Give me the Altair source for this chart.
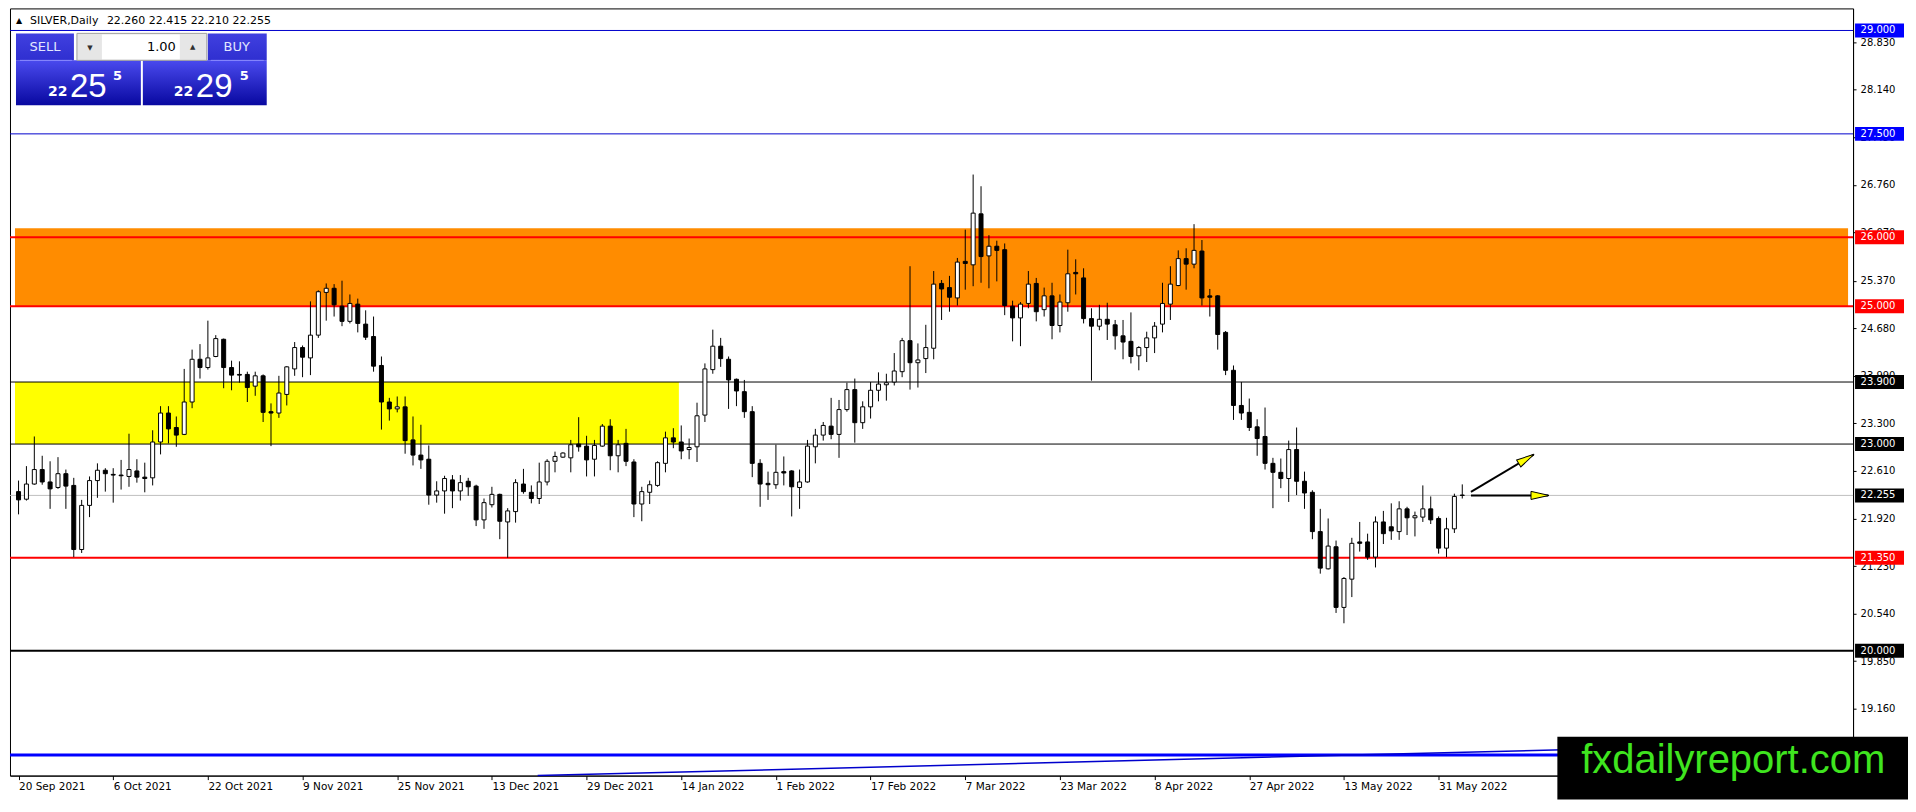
import json
import altair as alt
import pandas as pd

W, H = 1845, 768
FONT = "DejaVu Sans"

# ---------------- data ----------------
symbol = "SILVER"
timeframe = "Daily"
ask_price = 22.295
lot_size = "1.00"

opens = [22.31, 22.20, 22.42, 22.63, 22.45, 22.37, 22.57, 22.40, 21.47, 22.11,
         22.47, 22.62, 22.56, 22.55, 22.53, 22.61, 22.52, 22.51, 23.03, 23.45,
         23.24, 23.14, 23.61, 24.23, 24.11, 24.27, 24.52, 24.11, 24.01, 24.01,
         23.84, 23.99, 23.47, 23.45, 23.72, 24.09, 24.40, 24.25, 24.58, 25.20,
         25.26, 25.00, 24.78, 25.03, 24.74, 24.56, 24.14, 23.61, 23.51, 23.54,
         23.06, 22.84, 22.78, 22.26, 22.32, 22.48, 22.32, 22.46, 22.39, 21.90,
         22.12, 22.27, 21.87, 22.02, 22.42, 22.30, 22.21, 22.45, 22.75, 22.81,
         22.80, 23.00, 22.97, 22.78, 22.97, 23.26, 22.83, 23.01, 22.74, 22.13,
         22.30, 22.40, 22.72, 23.09, 23.03, 22.92, 22.96, 23.42, 24.08, 24.42,
         24.23, 23.94, 23.76, 23.47, 22.72, 22.43, 22.41, 22.60, 22.61, 22.37,
         22.45, 22.96, 23.13, 23.26, 23.14, 23.50, 23.79, 23.31, 23.54, 23.78,
         23.86, 23.90, 24.05, 24.50, 24.18, 24.24, 24.39, 25.33, 25.27, 25.12,
         25.65, 25.60, 26.34, 25.73, 25.87, 25.82, 25.00, 24.83, 25.04, 25.33,
         24.95, 25.15, 24.72, 25.05, 25.49, 25.41, 24.82, 24.71, 24.81, 24.73,
         24.57, 24.49, 24.28, 24.40, 24.54, 24.74, 25.03, 25.30, 25.69, 25.61,
         25.80, 25.15, 25.15, 24.62, 24.07, 23.56, 23.46, 23.25, 23.11, 22.72,
         22.59, 22.50, 22.92, 22.46, 22.30, 21.73, 21.19, 21.51, 20.63, 21.04,
         21.58, 21.58, 21.36, 21.87, 21.80, 21.73, 22.06, 21.93, 21.94, 22.06,
         21.92, 21.49, 21.77, 22.260]
highs = [22.47, 22.68, 23.11, 22.83, 22.75, 22.81, 22.63, 22.51, 22.19, 22.53,
         22.72, 22.65, 22.65, 22.77, 23.15, 22.78, 22.73, 23.20, 23.55, 23.55,
         23.40, 24.09, 24.37, 24.45, 24.79, 24.58, 24.53, 24.21, 24.20, 24.05,
         24.05, 24.01, 23.59, 23.99, 24.13, 24.48, 24.43, 25.07, 25.23, 25.33,
         25.32, 25.37, 25.17, 25.11, 24.94, 24.85, 24.27, 23.67, 23.69, 23.69,
         23.40, 23.28, 22.98, 22.46, 22.54, 22.55, 22.55, 22.51, 22.41, 22.21,
         22.38, 22.28, 22.07, 22.49, 22.64, 22.40, 22.73, 22.78, 22.89, 22.88,
         23.06, 23.39, 23.12, 23.06, 23.29, 23.36, 23.06, 23.22, 22.78, 22.38,
         22.47, 22.75, 23.18, 23.23, 23.27, 23.08, 23.60, 24.17, 24.66, 24.54,
         24.27, 23.95, 23.93, 23.55, 22.78, 22.60, 22.99, 22.82, 22.62, 22.63,
         23.06, 23.22, 23.32, 23.67, 23.64, 23.89, 23.95, 23.62, 23.90, 24.04,
         24.02, 24.32, 24.54, 25.58, 24.46, 24.73, 25.51, 25.38, 25.44, 25.70,
         26.11, 26.91, 26.74, 26.03, 25.95, 25.91, 25.08, 25.06, 25.51, 25.41,
         25.27, 25.34, 25.17, 25.82, 25.68, 25.55, 24.97, 25.02, 25.05, 24.80,
         24.80, 24.91, 24.42, 24.63, 24.77, 25.34, 25.58, 25.81, 25.84, 26.19,
         25.96, 25.25, 25.16, 24.64, 24.14, 23.90, 23.66, 23.36, 23.53, 22.80,
         22.79, 23.05, 23.24, 22.60, 22.33, 22.06, 21.92, 21.60, 21.07, 21.64,
         21.87, 21.70, 21.95, 22.03, 22.14, 22.17, 22.09, 22.02, 22.40, 22.24,
         21.95, 21.93, 22.28, 22.415]
lows = [21.98, 22.18, 22.41, 22.41, 22.06, 22.35, 22.06, 21.36, 21.42, 21.94,
        22.22, 22.31, 22.15, 22.34, 22.38, 22.44, 22.30, 22.40, 22.85, 23.01,
        22.96, 23.13, 23.52, 23.95, 24.08, 24.26, 23.81, 23.78, 23.89, 23.61,
        23.70, 23.32, 22.97, 23.38, 23.56, 23.99, 23.97, 24.00, 24.54, 24.79,
        24.85, 24.71, 24.75, 24.62, 24.51, 24.05, 23.21, 23.34, 23.46, 22.86,
        22.69, 22.64, 22.12, 22.15, 21.99, 22.07, 22.18, 22.25, 21.81, 21.77,
        22.08, 21.62, 21.35, 21.86, 22.28, 22.14, 22.13, 22.40, 22.59, 22.80,
        22.59, 22.89, 22.53, 22.53, 22.96, 22.62, 22.59, 22.68, 21.94, 21.88,
        22.13, 22.38, 22.59, 22.94, 22.78, 22.78, 22.74, 23.32, 24.02, 24.12,
        23.51, 23.55, 23.38, 22.52, 22.09, 22.19, 22.35, 22.40, 21.95, 22.06,
        22.44, 22.72, 23.05, 23.07, 22.80, 23.47, 23.02, 23.22, 23.37, 23.62,
        23.63, 23.85, 23.97, 23.79, 23.82, 24.03, 24.23, 24.80, 24.92, 25.01,
        25.24, 25.29, 25.34, 25.26, 25.36, 24.87, 24.49, 24.42, 24.97, 24.78,
        24.85, 24.52, 24.62, 24.92, 25.17, 24.75, 23.92, 24.65, 24.51, 24.37,
        24.23, 24.17, 24.07, 24.19, 24.32, 24.62, 24.80, 25.29, 25.24, 25.55,
        25.01, 24.85, 24.37, 24.00, 23.35, 23.35, 23.19, 22.83, 22.63, 22.07,
        22.36, 22.16, 22.26, 22.06, 21.62, 21.12, 21.18, 20.55, 20.40, 20.78,
        21.44, 21.32, 21.21, 21.55, 21.61, 21.61, 21.68, 21.66, 21.87, 21.84,
        21.41, 21.36, 21.71, 22.210]
closes = [22.19, 22.42, 22.63, 22.45, 22.35, 22.57, 22.39, 21.47, 22.11, 22.47,
          22.62, 22.57, 22.55, 22.54, 22.63, 22.52, 22.50, 23.03, 23.45, 23.22,
          23.13, 23.61, 24.23, 24.11, 24.25, 24.53, 24.11, 24.00, 24.00, 23.82,
          23.99, 23.46, 23.45, 23.74, 24.12, 24.40, 24.26, 24.58, 25.21, 25.26,
          25.02, 24.78, 25.04, 24.75, 24.55, 24.13, 23.61, 23.51, 23.54, 23.05,
          22.84, 22.77, 22.26, 22.32, 22.50, 22.32, 22.44, 22.38, 21.90, 22.15,
          22.27, 21.88, 22.03, 22.44, 22.31, 22.21, 22.45, 22.75, 22.82, 22.87,
          22.99, 22.96, 22.77, 22.98, 23.26, 22.83, 22.99, 22.75, 22.13, 22.31,
          22.41, 22.73, 23.09, 23.03, 22.90, 22.95, 23.41, 24.09, 24.42, 24.24,
          23.93, 23.77, 23.47, 22.72, 22.42, 22.41, 22.59, 22.58, 22.38, 22.45,
          22.97, 23.13, 23.27, 23.14, 23.50, 23.79, 23.31, 23.54, 23.78, 23.87,
          23.89, 24.06, 24.50, 24.18, 24.22, 24.40, 25.32, 25.25, 25.13, 25.64,
          25.62, 26.35, 25.72, 25.87, 25.81, 25.01, 24.83, 25.03, 25.32, 24.92,
          25.15, 24.72, 25.06, 25.47, 25.47, 24.82, 24.71, 24.81, 24.74, 24.57,
          24.48, 24.27, 24.40, 24.54, 24.71, 25.04, 25.32, 25.69, 25.61, 25.81,
          25.12, 25.13, 24.59, 24.07, 23.56, 23.45, 23.24, 23.08, 22.72, 22.59,
          22.50, 22.92, 22.46, 22.29, 21.73, 21.20, 21.52, 20.63, 21.05, 21.56,
          21.56, 21.36, 21.87, 21.70, 21.74, 22.06, 21.93, 21.96, 22.06, 21.90,
          21.49, 21.77, 22.24, 22.255]

date_labels = ["20 Sep 2021", "6 Oct 2021", "22 Oct 2021", "9 Nov 2021", "25 Nov 2021",
               "13 Dec 2021", "29 Dec 2021", "14 Jan 2022", "1 Feb 2022", "17 Feb 2022",
               "7 Mar 2022", "23 Mar 2022", "8 Apr 2022", "27 Apr 2022", "13 May 2022",
               "31 May 2022"]
date_label_bars = [0, 12, 24, 36, 48, 60, 72, 84, 96, 108, 120, 132, 144, 156, 168, 180]

y_ticks = [28.83, 28.14, 27.45, 26.76, 26.07, 25.37, 24.68, 23.99, 23.30, 22.61,
           21.92, 21.23, 20.54, 19.85, 19.16]

levels = [29.0, 27.5, 26.0, 25.0, 23.9, 23.0, 22.255, 21.35, 20.0, 18.49]
level_colors = ["#0000cc", "#0000cc", "#ff0000", "#ff0000", "#000000", "#000000",
                "#c0c0c0", "#ff0000", "#000000", "#0000ff"]
level_widths = [1, 1, 2, 2, 1, 1, 1, 2, 2, 3]

tag_levels = [29.0, 27.5, 26.0, 25.0, 23.9, 23.0, 22.255, 21.35, 20.0]
tag_colors = ["#0000ff", "#0000ff", "#ff0000", "#ff0000", "#000000", "#000000",
              "#000000", "#ff0000", "#000000"]

zone_from = [-0.45, -0.45]
zone_to = [231.9, 83.7]
zone_low = [25.0, 23.0]
zone_high = [26.13, 23.9]
zone_colors = ["#ff8c00", "#ffff00"]

trend_bars = [65.8, 231.9]
trend_prices = [18.19, 18.67]

arrow_from_bar = [184.1, 184.1]
arrow_from_price = [22.305, 22.255]
arrow_to_bar = [192.05, 193.9]
arrow_to_price = [22.848, 22.255]
arrow_head_bar = [191.13, 192.85]
arrow_head_price = [22.785, 22.255]
arrow_head_angle = [329, 0]

x_domain = [-0.45, 231.9]
y_domain = [18.19, 29.32]

# ---------------- tables ----------------
candles = pd.DataFrame({"bar": list(range(len(opens))), "open": opens,
                        "high": highs, "low": lows, "close": closes})
candles["fill"] = ["white" if c >= o else "black" for o, c in zip(opens, closes)]

zones = pd.DataFrame({"x": zone_from, "x2": zone_to, "lo": zone_low,
                      "hi": zone_high, "color": zone_colors})
lines = pd.DataFrame({"level": levels, "color": level_colors, "w": level_widths})
tags = pd.DataFrame({"level": tag_levels, "color": tag_colors,
                     "label": [f"{v:.3f}" for v in tag_levels]})
trend = pd.DataFrame({"x": [trend_bars[0]], "x2": [trend_bars[1]],
                      "y": [trend_prices[0]], "y2": [trend_prices[1]]})
arrows = pd.DataFrame({"x": arrow_from_bar, "y": arrow_from_price,
                       "x2": arrow_to_bar, "y2": arrow_to_price,
                       "hx": arrow_head_bar, "hy": arrow_head_price,
                       "angle": arrow_head_angle})

xs = alt.Scale(domain=x_domain, nice=False, zero=False)
ys = alt.Scale(domain=y_domain, nice=False, zero=False)

label_expr = (f"{json.dumps(date_labels)}[indexof({json.dumps(date_label_bars)}, datum.value)]")
x_axis = alt.Axis(values=date_label_bars, labelExpr=label_expr, title=None, orient="bottom",
                  tickSize=4, labelAlign="left", labelPadding=2, labelFontSize=10.5,
                  labelOverlap=False, labelFlush=False, grid=False)
y_axis = alt.Axis(values=y_ticks, format=".3f", title=None, orient="right", tickSize=3,
                  labelPadding=4, labelFontSize=10, labelOverlap=False, grid=False)


def X(f):
    return alt.X(f, type="quantitative", scale=xs, axis=x_axis)


def Y(f):
    return alt.Y(f, type="quantitative", scale=ys, axis=y_axis)


zone_layer = alt.Chart(zones).mark_rect().encode(
    x=X("x"), x2="x2", y=Y("lo"), y2="hi", color=alt.Color("color:N", scale=None))

line_layer = alt.Chart(lines).mark_rule().encode(
    x=alt.value(0), x2=alt.value(W), y=Y("level"),
    color=alt.Color("color:N", scale=None),
    strokeWidth=alt.StrokeWidth("w:Q", scale=None))

trend_layer = alt.Chart(trend).mark_rule(color="#0000cc", strokeWidth=1.5).encode(
    x=X("x"), x2="x2", y=Y("y"), y2="y2")

wick_layer = alt.Chart(candles).mark_rule(color="black", strokeWidth=1).encode(
    x=X("bar"), y=Y("low"), y2="high")

body_layer = alt.Chart(candles).mark_bar(size=4, stroke="black", strokeWidth=1).encode(
    x=X("bar"), y=Y("open"), y2="close", fill=alt.Fill("fill:N", scale=None))

arrow_line_layer = alt.Chart(arrows).mark_rule(color="black", strokeWidth=2).encode(
    x=X("x"), y=Y("y"), x2="x2", y2="y2")

arrow_head_layer = alt.Chart(arrows).mark_point(
    shape="M-1,-0.45L1,0L-1,0.45Z", filled=True, fill="#ffff00", stroke="black",
    strokeWidth=1, size=324, opacity=1).encode(
    x=X("hx"), y=Y("hy"), angle=alt.Angle("angle:Q", scale=None))

tag_box_layer = alt.Chart(tags).mark_rect(yOffset=-7, y2Offset=7).encode(
    x=alt.value(W + 2), x2=alt.value(W + 51), y=Y("level"), y2="level",
    color=alt.Color("color:N", scale=None))

tag_text_layer = alt.Chart(tags).mark_text(
    align="left", baseline="middle", font=FONT, fontSize=10, color="white").encode(
    x=alt.value(W + 7.5), y=Y("level"), text="label:N")

# ---------------- decorations (pixel placed) ----------------
one = alt.Data(values=[{}])


def box(x, x2, y, y2, **kw):
    return alt.Chart(one).mark_rect(**kw).encode(
        x=alt.value(x), x2=alt.value(x2), y=alt.value(y), y2=alt.value(y2))


def txt(x, y, text, **kw):
    kw.setdefault("font", FONT)
    return alt.Chart(one).mark_text(text=text, **kw).encode(x=alt.value(x), y=alt.value(y))


panel_grad = alt.Gradient(gradient="linear", x1=0, x2=0, y1=0, y2=1, stops=[
    alt.GradientStop(color="#4a4aee", offset=0), alt.GradientStop(color="#0808a0", offset=1)])
tab_grad = alt.Gradient(gradient="linear", x1=0, x2=0, y1=0, y2=1, stops=[
    alt.GradientStop(color="#4040e0", offset=0), alt.GradientStop(color="#2f2fd0", offset=1)])

bid_txt = f"{closes[-1]:.3f}"
ask_txt = f"{ask_price:.3f}"
last = [opens[-1], highs[-1], lows[-1], closes[-1]]

deco = [
    txt(6, 13, "\u25b2", fontSize=8, align="left", baseline="middle", color="black"),
    txt(20, 13, f"{symbol},{timeframe}", fontSize=11, align="left", baseline="middle", color="black"),
    txt(97, 13, " ".join(f"{v:.3f}" for v in last), fontSize=11, align="left",
        baseline="middle", color="black"),
    box(6, 131, 52, 97, color=panel_grad),
    box(133, 257, 52, 97, color=panel_grad),
    box(6, 64, 25, 52, color=tab_grad),
    box(198, 257, 25, 52, color=tab_grad),
    box(67, 197, 25, 52, color="#e6e6e6", stroke="#a0a0a0", strokeWidth=1),
    box(92, 170, 26, 51, color="white"),
    alt.Chart(one).mark_rule(color="#8a8aff", strokeWidth=1).encode(
        x=alt.value(10), x2=alt.value(62), y=alt.value(52)),
    alt.Chart(one).mark_rule(color="#8a8aff", strokeWidth=1).encode(
        x=alt.value(201), x2=alt.value(254), y=alt.value(52)),
    txt(35, 39, "SELL", fontSize=13, align="center", baseline="middle", color="#e2e6ff"),
    txt(227, 39, "BUY", fontSize=13, align="center", baseline="middle", color="#e2e6ff"),
    txt(166, 39, lot_size, fontSize=13, align="right", baseline="middle", color="black"),
    txt(80, 40, "\u25bc", fontSize=7, align="center", baseline="middle", color="#303030"),
    txt(183, 39, "\u25b2", fontSize=7, align="center", baseline="middle", color="#303030"),
    txt(38, 88, bid_txt[:2], fontSize=14, fontWeight="bold", align="left",
        baseline="alphabetic", color="white"),
    txt(60, 89, bid_txt[3:5], font="Liberation Sans", fontSize=33, align="left",
        baseline="alphabetic", color="white"),
    txt(103, 72, bid_txt[5:], fontSize=13, fontWeight="bold", align="left",
        baseline="alphabetic", color="white"),
    txt(164, 88, ask_txt[:2], fontSize=14, fontWeight="bold", align="left",
        baseline="alphabetic", color="white"),
    txt(186, 89, ask_txt[3:5], font="Liberation Sans", fontSize=33, align="left",
        baseline="alphabetic", color="white"),
    txt(230, 72, ask_txt[5:], fontSize=13, fontWeight="bold", align="left",
        baseline="alphabetic", color="white"),
    box(1549, 1900, H - 39, H + 24, color="black"),
    txt(1725, H - 3, "fxdailyreport.com", font="Liberation Sans", fontSize=40,
        align="center", baseline="alphabetic", color="#3fe51f"),
]

chart = alt.layer(
    zone_layer, line_layer, trend_layer, wick_layer, body_layer,
    arrow_line_layer, arrow_head_layer, tag_box_layer, tag_text_layer, *deco
).properties(
    width=W, height=H, padding=0, background="white"
).configure_view(
    stroke="black", strokeWidth=1
).configure_axis(
    labelFont=FONT, labelColor="black", domainColor="black", tickColor="black",
    domainWidth=1, tickWidth=1
)

chart.save("out.html", embed_options={"renderer": "svg", "actions": False})
